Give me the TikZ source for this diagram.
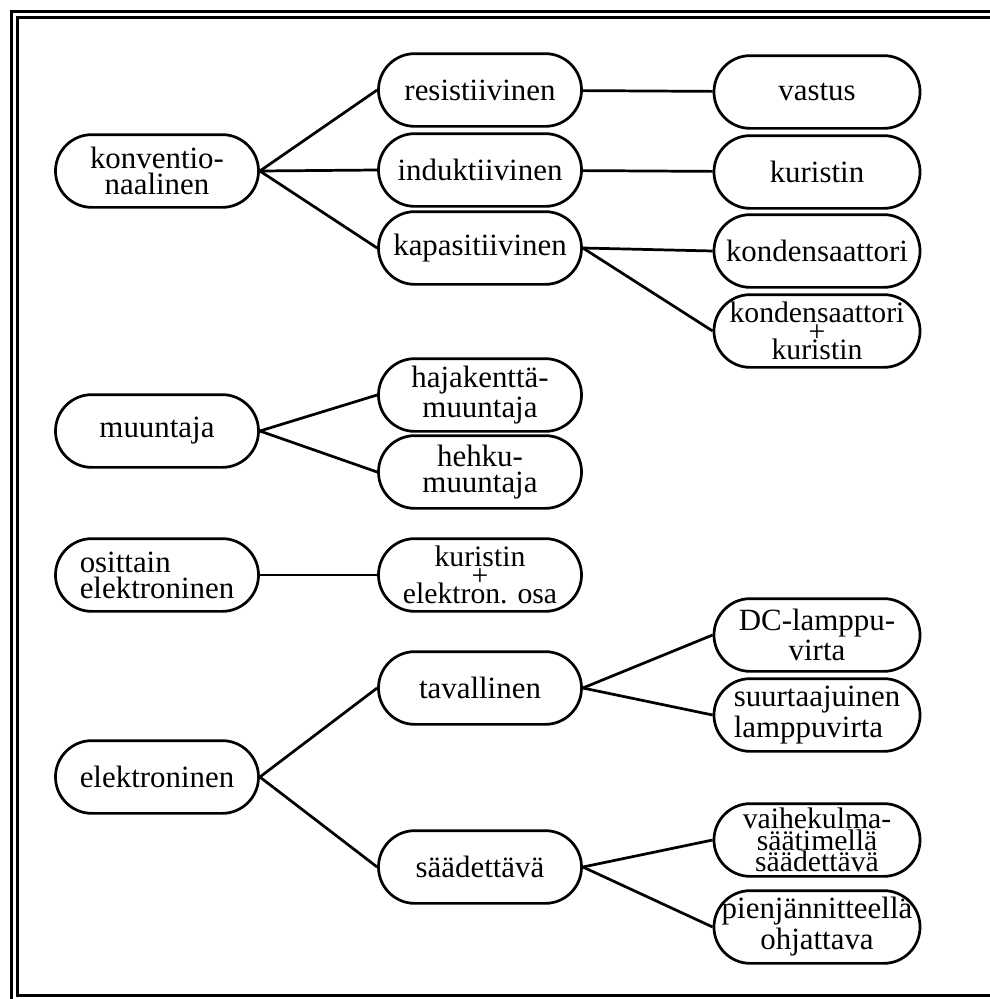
\documentclass[tikz,border=0pt]{standalone}
\usepackage{fontspec}
\setmainfont{Liberation Serif}
\usetikzlibrary{positioning}

\begin{document}
\begin{tikzpicture}[x=0.33pt,y=-0.33pt]
	\tikzstyle{place}=[draw=black, line width=0.9pt, rounded corners=12pt, minimum width=67pt, minimum height=24pt, inner sep=0pt, align=center, font=\fontsize{10.2}{8.6}\selectfont]
	\tikzstyle{placer}=[place, minimum width=68pt]
	\tikzstyle{threeline}=[font=\fontsize{9.8}{8.2}\selectfont]
	\tikzstyle{link}=[line width=0.9pt]
	
	\useasboundingbox (0,0) rectangle (990,999);
	\clip (0,0) rectangle (990,999);
	\draw [line width=1.1pt] (11.5,11.5) rectangle (1010,1010);
	\draw [line width=0.8pt] (17.5,17.5) rectangle (1000,995.5);
	
	% vasen sarake
	\draw node at (157,171) [place] (konv) {konventio-\\naalinen};
	\draw node at (157,431) [place] (muun) {muuntaja};
	\draw node at (157,575) [place, align=left] (osit) {osittain\\elektroninen};
	\draw node at (157,777) [place] (elek) {elektroninen};
	
	% keskimmainen sarake
	\draw node at (480,90) [place] (resi) {resistiivinen};
	\draw node at (480,170) [place] (indu) {induktiivinen};
	\draw node at (480,248) [place] (kapa) {kapasitiivinen};
	\draw node at (480,395) [place] (haja) {hajakenttä-\\muuntaja};
	\draw node at (480,472) [place] (hehk) {hehku-\\muuntaja};
	\draw node at (480,575) [place, threeline] (kuel) {kuristin\\[-2pt]+\\[-2pt]elektron. osa};
	\draw node at (480,688) [place] (tava) {tavallinen};
	\draw node at (480,867) [place] (saad) {säädettävä};
	
	% oikea sarake
	\draw node at (817,92) [placer] (vast) {vastus};
	\draw node at (817,172) [placer] (kuri) {kuristin};
	\draw node at (817,251) [placer] (kond) {kondensaattori};
	\draw node at (817,331) [placer, threeline] (koku) {kondensaattori\\[-2pt]+\\[-2pt]kuristin};
	\draw node at (817,635) [placer] (dcla) {DC-lamppu-\\virta};
	\draw node at (817,715) [placer, align=left] (suur) {suurtaajuinen\\lamppuvirta};
	\draw node at (817,840) [placer, threeline] (vaih) {vaihekulma-\\[-1.2pt]säätimellä\\[-1.2pt]säädettävä};
	\draw node at (817,927) [placer] (pien) {pienjännitteellä\\ohjattava};
	
	\draw [link] (konv.east) to (resi.west);
	\draw [link] (konv.east) to (indu.west);
	\draw [link] (konv.east) to (kapa.west);
	\draw [link] (resi) to (vast);
	\draw [link] (indu) to (kuri);
	\draw [link] (kapa.east) to (kond.west);
	\draw [link] (kapa.east) to (koku.west);
	
	\draw [link] (muun.east) to (haja.west);
	\draw [link] (muun.east) to (hehk.west);
	\draw [link] (osit) to (kuel);
	
	\draw [link] (elek.east) to (tava.west);
	\draw [link] (elek.east) to (saad.west);
	\draw [link] (tava.east) to (dcla.west);
	\draw [link] (tava.east) to (suur.west);
	\draw [link] (saad.east) to (vaih.west);
	\draw [link] (saad.east) to (pien.west);
\end{tikzpicture}
\end{document}
